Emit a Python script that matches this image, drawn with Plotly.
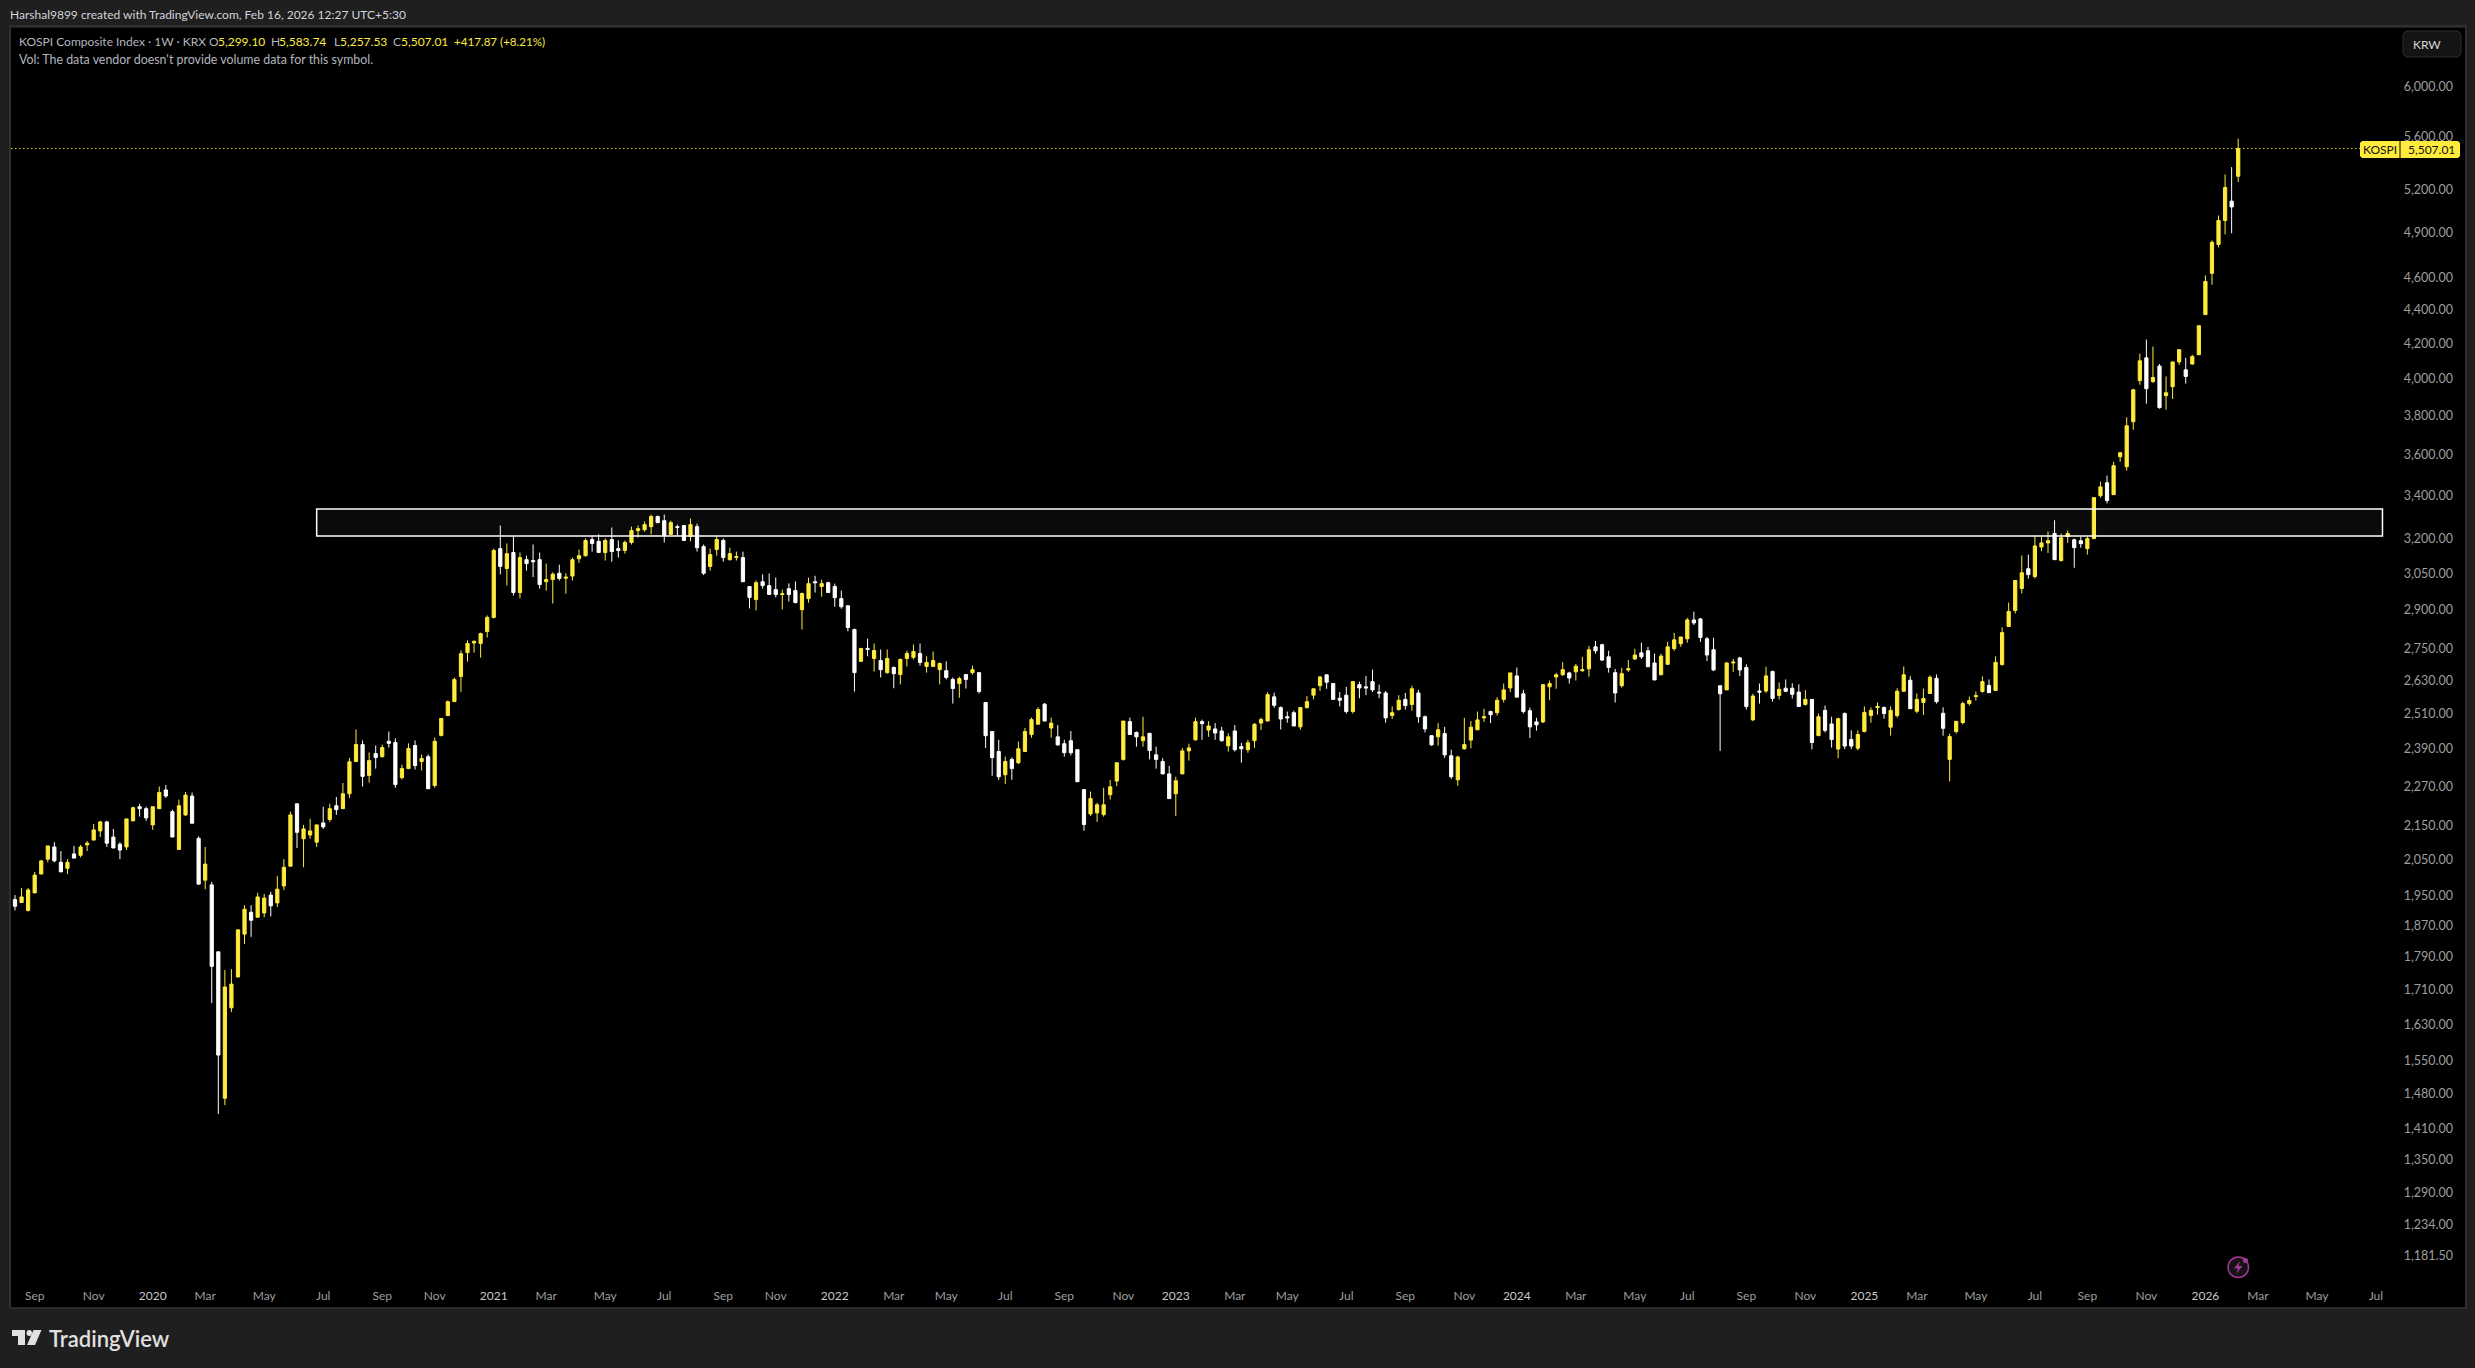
import pandas as pd
import plotly.graph_objects as go

W, H = 2475, 1368
first_week = "2019-08-05"

opens = [
 1984,1939,1931,1910,1957,2009,2051,2086,2042,2025,
 2066,2062,2092,2106,2133,2160,2115,2094,2086,2163,
 2206,2200,2151,2200,2258,2191,2079,2181,2239,2111,
 1992,1979,1803,1471,1668,1741,1848,1905,1892,1903,
 1951,1930,1976,2031,2215,2110,2121,2100,2157,2167,
 2209,2200,2246,2349,2405,2304,2375,2365,2416,2412,
 2297,2326,2402,2349,2365,2272,2436,2504,2553,2644,
 2733,2770,2768,2814,2870,3158,3072,3141,2971,3110,
 3106,3110,3016,3025,3052,3031,3040,3114,3127,3198,
 3190,3141,3198,3158,3150,3185,3238,3242,3256,3302,
 3283,3221,3256,3261,3212,3256,3167,3081,3154,3194,
 3110,3119,3119,2996,2942,3016,3000,2983,2963,2987,
 2979,2901,2946,3016,2996,3012,2996,2946,2917,2822,
 2700,2749,2711,2703,2658,2677,2651,2711,2715,2730,
 2681,2681,2669,2665,2633,2618,2651,2658,2658,2550,
 2449,2382,2306,2356,2345,2382,2439,2474,2544,2461,
 2431,2408,2418,2388,2259,2184,2187,2182,2243,2286,
 2356,2483,2446,2418,2443,2371,2349,2309,2246,2309,
 2384,2421,2483,2454,2458,2451,2401,2451,2398,2388,
 2418,2478,2485,2570,2532,2500,2514,2465,2532,2576,
 2610,2650,2618,2565,2576,2518,2614,2606,2625,2587,
 2584,2504,2525,2561,2543,2584,2500,2435,2431,2442,
 2368,2290,2391,2420,2455,2496,2518,2514,2561,2602,
 2646,2581,2521,2482,2482,2606,2642,2650,2657,2661,
 2665,2672,2755,2763,2717,2658,2610,2668,2709,2732,
 2740,2694,2650,2689,2748,2767,2786,2860,2864,2786,
 2744,2610,2595,2694,2713,2677,2489,2591,2591,2662,
 2575,2601,2601,2587,2543,2561,2435,2522,2475,2390,
 2511,2422,2393,2449,2504,2532,2532,2464,2504,2590,
 2630,2519,2550,2582,2637,2512,2356,2449,2480,2546,
 2571,2589,2611,2593,2688,2834,2898,2988,3071,3038,
 3165,3183,3225,3106,3211,3197,3193,3158,3202,3399,
 3461,3404,3588,3539,3767,3989,4117,3983,4070,3906,
 3955,4094,4049,4082,4135,4372,4630,4820,4983,5119,5299.10,
]
closes = [
 1933,1921,1946,1965,2006,2046,2089,2046,2015,2042,
 2054,2086,2097,2136,2160,2097,2083,2077,2169,2203,
 2200,2172,2206,2250,2239,2115,2209,2242,2156,1981,
 2037,1767,1562,1717,1724,1859,1913,1884,1946,1943,
 1922,1967,2028,2181,2129,2139,2133,2151,2145,2200,
 2197,2246,2348,2405,2301,2352,2362,2395,2409,2275,
 2326,2392,2336,2359,2262,2416,2494,2553,2633,2729,
 2768,2776,2806,2870,3150,3081,3136,2971,3119,3093,
 3101,3004,3025,3048,3030,3035,3110,3127,3194,3181,
 3141,3194,3145,3150,3185,3238,3247,3265,3302,3274,
 3216,3274,3252,3194,3265,3162,3052,3132,3198,3119,
 3136,3123,3016,2951,3012,3000,2963,2963,2966,2963,
 2930,2967,3008,3012,3008,2971,2950,2913,2830,2658,
 2749,2745,2741,2669,2711,2654,2707,2730,2737,2696,
 2696,2703,2692,2640,2600,2636,2633,2669,2589,2435,
 2362,2300,2349,2326,2391,2449,2490,2525,2485,2478,
 2404,2378,2378,2284,2152,2231,2212,2212,2268,2345,
 2485,2439,2431,2431,2385,2356,2309,2231,2287,2384,
 2394,2483,2476,2468,2444,2418,2431,2388,2391,2411,
 2474,2490,2578,2540,2492,2496,2468,2532,2553,2599,
 2642,2623,2561,2558,2518,2625,2602,2602,2595,2584,
 2496,2514,2558,2539,2599,2500,2458,2404,2455,2371,
 2300,2364,2405,2464,2489,2500,2507,2558,2595,2657,
 2569,2518,2465,2472,2614,2618,2650,2669,2638,2682,
 2669,2744,2740,2705,2677,2584,2654,2672,2724,2717,
 2680,2631,2720,2755,2782,2793,2860,2848,2791,2724,
 2668,2581,2694,2697,2668,2536,2573,2587,2646,2564,
 2597,2590,2579,2536,2561,2412,2500,2453,2422,2493,
 2400,2400,2439,2515,2522,2536,2511,2522,2590,2650,
 2528,2561,2564,2641,2553,2460,2432,2484,2546,2557,
 2574,2625,2585,2696,2810,2894,3021,3054,3046,3170,
 3183,3193,3110,3206,3225,3162,3180,3202,3390,3441,
 3376,3544,3608,3746,3938,4100,3944,4006,3842,3922,
 4094,4164,4012,4124,4305,4578,4834,4983,5217,5078,5507.01,
]
highs = [
 1990,1951,1970,1970,2015,2049,2089,2100,2074,2051,
 2089,2092,2103,2154,2163,2163,2139,2100,2169,2206,
 2215,2206,2206,2269,2274,2197,2228,2252,2250,2117,
 2086,1987,1803,1758,1760,1859,1924,1924,1957,1954,
 1960,2004,2051,2191,2215,2151,2169,2151,2206,2215,
 2236,2280,2361,2456,2419,2379,2402,2405,2449,2426,
 2339,2409,2419,2372,2372,2429,2494,2557,2640,2741,
 2780,2780,2810,2878,3158,3261,3181,3212,3141,3127,
 3176,3141,3093,3056,3088,3052,3119,3154,3203,3212,
 3221,3203,3252,3194,3194,3256,3261,3279,3311,3307,
 3311,3283,3265,3261,3293,3270,3176,3158,3212,3203,
 3162,3145,3145,2996,3021,3047,3051,3034,2983,3009,
 3017,2971,3033,3041,3025,3016,3008,2979,2917,2826,
 2749,2787,2768,2745,2745,2681,2711,2741,2764,2768,
 2719,2737,2696,2700,2640,2643,2651,2684,2658,2550,
 2449,2421,2365,2362,2415,2461,2497,2533,2548,2497,
 2471,2421,2451,2388,2259,2253,2218,2265,2290,2345,
 2485,2497,2449,2500,2443,2398,2360,2335,2300,2394,
 2408,2497,2490,2485,2478,2465,2443,2471,2411,2421,
 2478,2497,2586,2585,2536,2518,2521,2532,2573,2599,
 2646,2650,2618,2587,2606,2625,2625,2646,2669,2614,
 2591,2536,2576,2584,2610,2595,2504,2435,2478,2465,
 2388,2368,2496,2485,2518,2528,2521,2569,2618,2657,
 2677,2595,2532,2496,2614,2629,2657,2697,2661,2690,
 2717,2759,2778,2767,2740,2672,2676,2705,2748,2771,
 2755,2729,2729,2774,2809,2793,2868,2893,2868,2793,
 2790,2610,2697,2709,2717,2689,2581,2618,2680,2666,
 2622,2633,2619,2615,2594,2561,2511,2539,2500,2497,
 2515,2453,2453,2536,2532,2550,2536,2536,2601,2681,
 2645,2582,2600,2648,2651,2533,2442,2484,2553,2571,
 2589,2644,2633,2719,2831,2930,3021,3128,3132,3215,
 3211,3234,3285,3225,3238,3202,3211,3211,3390,3466,
 3495,3563,3613,3791,3944,4141,4223,4182,4082,4012,
 4094,4164,4117,4135,4305,4617,4847,5018,5312,5367,5583.74,
]
lows = [
 1930,1910,1930,1907,1957,2009,2042,2042,2015,2009,
 2054,2056,2074,2106,2115,2086,2083,2051,2077,2163,
 2176,2163,2136,2200,2233,2115,2079,2178,2156,1979,
 1967,1679,1439,1457,1658,1741,1823,1841,1892,1892,
 1894,1919,1965,2031,2083,2028,2110,2086,2139,2160,
 2181,2200,2233,2349,2269,2281,2326,2362,2395,2265,
 2291,2326,2323,2320,2262,2265,2432,2504,2553,2588,
 2699,2733,2714,2791,2866,3047,3000,2959,2947,3063,
 3036,2987,2979,2926,3021,2966,3021,3096,3123,3145,
 3141,3106,3101,3119,3136,3176,3207,3234,3221,3274,
 3185,3221,3216,3194,3190,3145,3044,3063,3127,3101,
 3106,3106,3016,2906,2898,2987,2963,2951,2902,2934,
 2926,2822,2929,2971,2954,2971,2913,2905,2815,2589,
 2700,2719,2662,2640,2654,2601,2615,2681,2707,2684,
 2658,2681,2615,2633,2546,2567,2600,2651,2582,2394,
 2303,2290,2277,2290,2341,2382,2428,2474,2485,2428,
 2401,2365,2369,2284,2134,2178,2160,2176,2228,2270,
 2352,2439,2398,2398,2356,2326,2309,2231,2178,2309,
 2352,2418,2421,2431,2421,2415,2382,2382,2345,2378,
 2394,2454,2485,2531,2456,2479,2468,2455,2528,2561,
 2591,2599,2561,2536,2511,2511,2565,2576,2587,2565,
 2479,2492,2521,2525,2521,2479,2446,2401,2401,2361,
 2293,2271,2388,2393,2455,2482,2478,2504,2550,2587,
 2569,2511,2427,2452,2478,2558,2599,2646,2618,2629,
 2661,2643,2729,2701,2658,2550,2603,2661,2705,2709,
 2680,2631,2650,2686,2740,2755,2771,2840,2774,2701,
 2664,2384,2595,2661,2646,2525,2485,2546,2584,2553,
 2561,2587,2564,2536,2539,2389,2435,2446,2395,2360,
 2390,2390,2386,2446,2479,2507,2493,2435,2497,2590,
 2528,2512,2506,2582,2546,2435,2285,2442,2473,2539,
 2557,2585,2585,2593,2684,2834,2886,2967,3029,3029,
 3147,3139,3110,3102,3183,3075,3162,3132,3202,3390,
 3363,3404,3563,3520,3725,3966,3863,3977,3836,3831,
 3888,4077,3972,4077,4135,4372,4558,4800,4888,4895,5257.53,
]
assert len(opens) == len(closes) == len(highs) == len(lows)
weeks = pd.date_range(first_week, periods=len(opens), freq="7D")

price_ticks = [6000, 5600, 5200, 4900, 4600, 4400, 4200, 4000, 3800, 3600, 3400, 3200,
               3050, 2900, 2750, 2630, 2510, 2390, 2270, 2150, 2050, 1950, 1870, 1790,
               1710, 1630, 1550, 1480, 1410, 1350, 1290, 1234, 1181.5]
price_tick_labels = [f"{v:,.2f}" for v in price_ticks]

time_ticks = ["2019-09-02","2019-11-04","2020-01-06","2020-03-02","2020-05-04","2020-07-06",
              "2020-09-07","2020-11-02","2021-01-04","2021-03-01","2021-05-03","2021-07-05",
              "2021-09-06","2021-11-01","2022-01-03","2022-03-07","2022-05-02","2022-07-04",
              "2022-09-05","2022-11-07","2023-01-02","2023-03-06","2023-05-01","2023-07-03",
              "2023-09-04","2023-11-06","2024-01-01","2024-03-04","2024-05-06","2024-07-01",
              "2024-09-02","2024-11-04","2025-01-06","2025-03-03","2025-05-05","2025-07-07",
              "2025-09-01","2025-11-03","2026-01-05","2026-03-02","2026-05-04","2026-07-06"]
time_labels = ["Sep","Nov","2020","Mar","May","Jul","Sep","Nov","2021","Mar","May","Jul",
               "Sep","Nov","2022","Mar","May","Jul","Sep","Nov","2023","Mar","May","Jul",
               "Sep","Nov","2024","Mar","May","Jul","Sep","Nov","2025","Mar","May","Jul",
               "Sep","Nov","2026","Mar","May","Jul"]
last_close = 5507.01
zone_low, zone_high = 3214, 3337
zone_start, zone_end = "2020-06-29", "2026-07-13"

YEL = "#FFEB3B"
WHT = "#FFFFFF"
BG = "#1F1F1F"
FONT = "Lato"
px = lambda x: x / W
py = lambda y: 1 - y / H


def poly(points):
    return "M " + " L ".join(f"{px(x):.6f} {py(y):.6f}" for x, y in points) + " Z"


def paper_shape(**kw):
    return dict(xref="paper", yref="paper", **kw)


def note(x, y, text, color="#B2B5BE", size=12, anchor="left", weight=None):
    return dict(xref="paper", yref="paper", x=px(x), y=py(y), text=text, showarrow=False,
                xanchor=anchor, yanchor="middle", borderpad=0,
                font=dict(family=FONT, size=size, color=color, weight=weight))


fig = go.Figure(go.Candlestick(
    x=weeks, open=opens, high=highs, low=lows, close=closes,
    increasing=dict(line=dict(color=YEL, width=1), fillcolor=YEL),
    decreasing=dict(line=dict(color=WHT, width=1), fillcolor=WHT),
    hoverinfo="skip", showlegend=False,
))

tick_text = [f'<span style="color:#C8C8C8">{t}</span>' if t.isdigit() else t for t in time_labels]

shapes = [
    dict(type="rect", xref="x", yref="y", x0=zone_start, x1=zone_end, y0=zone_low, y1=zone_high,
         line=dict(color="#FFFFFF", width=1.5), fillcolor="rgba(255,255,255,0.04)", layer="above"),
    dict(type="line", xref="paper", yref="y", x0=px(11), x1=px(2360), y0=last_close, y1=last_close,
         line=dict(color="#E6D435", width=1, dash="1.5px,2.5px"), layer="above"),
    paper_shape(type="rect", x0=px(10), x1=px(2466), y0=py(1308), y1=py(26),
                line=dict(color="#343434", width=1.5), layer="above"),
    paper_shape(type="path", path=poly([(2362, 141), (2399.5, 141), (2399.5, 158), (2362, 158), (2360, 156), (2360, 143)]),
                fillcolor=YEL, line=dict(width=0), layer="above"),
    paper_shape(type="path", path=poly([(2400.5, 141), (2458, 141), (2460, 143), (2460, 156), (2458, 158), (2400.5, 158)]),
                fillcolor=YEL, line=dict(width=0), layer="above"),
    paper_shape(type="path", path=poly([(2406, 31), (2458, 31), (2461, 34), (2461, 54), (2458, 57), (2406, 57), (2403, 54), (2403, 34)]),
                fillcolor="#141414", line=dict(color="#2E2E2E", width=1), layer="above"),
    paper_shape(type="circle", x0=px(2228), x1=px(2248.5), y0=py(1277.5), y1=py(1257),
                line=dict(color="#A8359C", width=1.5), fillcolor="#141414", layer="above"),
    paper_shape(type="circle", x0=px(2243), x1=px(2248), y0=py(1263), y1=py(1258),
                line=dict(width=0), fillcolor="#A8359C", layer="above"),
    paper_shape(type="path", path=poly([(2240, 1261), (2234, 1268.5), (2238, 1268.5), (2236, 1274), (2242.5, 1266), (2238.5, 1266)]),
                fillcolor="#A8359C", line=dict(width=0), layer="above"),
    paper_shape(type="path", path=poly([(12, 1330), (25, 1330), (25, 1345), (18, 1345), (18, 1336), (12, 1336)]),
                fillcolor="#E0E0E0", line=dict(width=0), layer="above"),
    paper_shape(type="circle", x0=px(26.5), x1=px(32), y0=py(1336), y1=py(1330),
                fillcolor="#E0E0E0", line=dict(width=0), layer="above"),
    paper_shape(type="path", path=poly([(33.5, 1330), (41.5, 1330), (35, 1345), (27, 1345)]),
                fillcolor="#E0E0E0", line=dict(width=0), layer="above"),
]

annotations = [
    note(9, 15, "Harshal9899 created with TradingView.com, Feb 16, 2026 12:27 UTC+5:30", color="#D1D4DC", size=12),
    note(18, 42, "KOSPI Composite Index · 1W · KRX"),
    note(18, 59, "Vol: The data vendor doesn't provide volume data for this symbol.", size=12.4),
    note(207.5, 42, "O"), note(217, 42, "5,299.10", color=YEL),
    note(269.5, 42, "H"), note(278, 42, "5,583.74", color=YEL),
    note(333, 42, "L"), note(339, 42, "5,257.53", color=YEL),
    note(391.5, 42, "C"), note(400, 42, "5,507.01", color=YEL),
    note(453, 42, "+417.87 (+8.21%)", color=YEL, size=11.6),
    note(2380, 149.5, "KOSPI", color="#111111", anchor="center"),
    note(2431, 149.5, "5,507.01", color="#111111", anchor="center"),
    note(2412, 44.5, "KRW", color="#D8D8D8"),
    note(48, 1338, "TradingView", color="#E0E0E0", size=22, weight=600),
]

fig.update_layout(
    width=W, height=H, autosize=False,
    margin=dict(l=0, r=0, t=0, b=0),
    paper_bgcolor=BG, plot_bgcolor="#000000",
    showlegend=False, dragmode=False, boxgap=0.3,
    font=dict(family=FONT, size=12, color="#9E9E9E"),
    xaxis=dict(
        type="date", domain=[px(11), px(2465)],
        range=["2019-08-07 17:30", "2026-10-09 02:00"],
        rangeslider=dict(visible=False), showgrid=False, zeroline=False, showline=False,
        tickmode="array", tickvals=time_ticks, ticktext=tick_text, tickangle=0,
        ticklabelposition="inside", ticks="", ticklabelstandoff=3,
        tickfont=dict(family=FONT, size=12, color="#9E9E9E"),
    ),
    yaxis=dict(
        type="log", domain=[py(1308), py(28)], side="right", anchor="x",
        range=[3.0410, 3.8137], showgrid=False, zeroline=False, showline=False,
        tickmode="array", tickvals=price_ticks, ticktext=price_tick_labels,
        ticklabelposition="inside", ticks="", ticklabelstandoff=9,
        tickfont=dict(family=FONT, size=12.5, color="#9E9E9E"),
    ),
    shapes=shapes, annotations=annotations,
)

fig.write_html("out.html", config={"displayModeBar": False},
               post_script="document.body.style.margin='0';document.body.style.background='#1F1F1F';")
